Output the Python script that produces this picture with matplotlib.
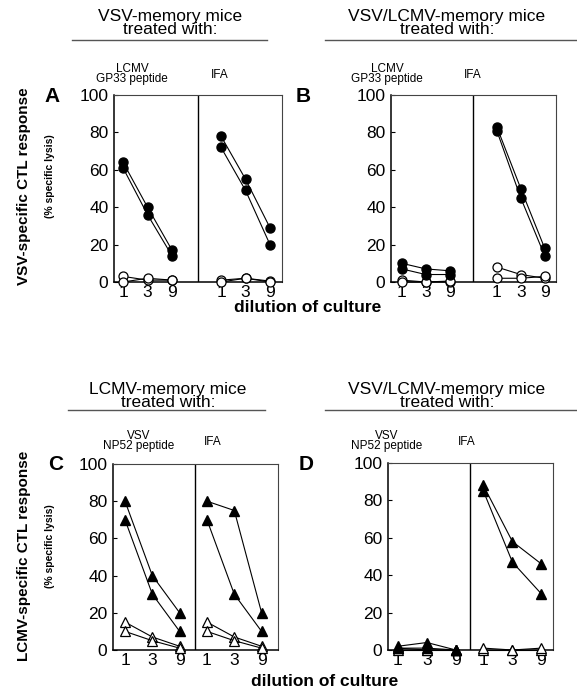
import matplotlib
matplotlib.use("Agg")
import matplotlib.pyplot as plt
from matplotlib.lines import Line2D

plt.rcParams['font.family'] = ['Liberation Sans', 'DejaVu Sans']

W, H = 577, 692

dilutions = ['1', '3', '9']

# panel A: VSV-memory mice, VSV-specific lysis (filled = VSV targets, open = control)
a_pep_filled = [[64, 40, 17], [61, 36, 14]]
a_pep_open = [[3, 1, 1], [0, 2, 1]]
a_ifa_filled = [[78, 55, 29], [72, 49, 20]]
a_ifa_open = [[1, 2, 0.5], [0, 2, 0]]

# panel B: VSV/LCMV-memory mice, VSV-specific lysis
b_pep_filled = [[10, 7, 6], [7, 4, 4]]
b_pep_open = [[1, 0, 0], [0, 0, 0.5]]
b_ifa_filled = [[83, 50, 18], [81, 45, 14]]
b_ifa_open = [[8, 4, 2], [2, 2, 3]]

# panel C: LCMV-memory mice, LCMV-specific lysis
c_pep_filled = [[80, 40, 20], [70, 30, 10]]
c_pep_open = [[15, 7, 2], [10, 5, 1]]
c_ifa_filled = [[80, 75, 20], [70, 30, 10]]
c_ifa_open = [[15, 7, 2], [10, 5, 1]]

# panel D: VSV/LCMV-memory mice, LCMV-specific lysis
d_pep_filled = [[2, 4, 0], [1, 1, 0]]
d_pep_open = [[0, 0, 0], [1, 0, 0]]
d_ifa_filled = [[88, 58, 46], [85, 47, 30]]
d_ifa_open = [[0, 0, 0], [1, 0, 1]]

yticks = [0, 20, 40, 60, 80, 100]


def fx(x):
    return x / W


def fy(y):
    return 1 - y / H


fig = plt.figure(figsize=(W / 100, H / 100), dpi=100)

# layout: (left, top, right, bottom) in pixels, right-block offset, xlim, divider
panels = [
    dict(box=(114, 95, 282, 282), off=4.0, xlim=(-0.37, 6.49), div=3.06,
         letter=('A', 52, 96), marker='o',
         data=(a_pep_filled, a_pep_open, a_ifa_filled, a_ifa_open)),
    dict(box=(391, 95, 556, 282), off=3.96, xlim=(-0.45, 6.43), div=2.98,
         letter=('B', 303, 96), marker='o',
         data=(b_pep_filled, b_pep_open, b_ifa_filled, b_ifa_open)),
    dict(box=(113, 464, 278, 650), off=3.0, xlim=(-0.44, 5.6), div=2.56,
         letter=('C', 56, 464), marker='^',
         data=(c_pep_filled, c_pep_open, c_ifa_filled, c_ifa_open)),
    dict(box=(388, 463, 553, 650), off=2.95, xlim=(-0.34, 5.35), div=2.48,
         letter=('D', 306, 464), marker='^',
         data=(d_pep_filled, d_pep_open, d_ifa_filled, d_ifa_open)),
]

for p in panels:
    l, t, r, b = p['box']
    ax = fig.add_axes([fx(l), fy(b), (r - l) / W, (b - t) / H])
    xl = [0, 1, 2]
    xr = [p['off'] + i for i in range(3)]
    pf, po, i_f, io = p['data']
    ms = 6.5 if p['marker'] == 'o' else 7
    for xs, filled, opened in [(xl, pf, po), (xr, i_f, io)]:
        for s in opened:
            ax.plot(xs, s, color='black', lw=0.8, marker=p['marker'], ms=ms,
                    mfc='white', mec='black', mew=0.9, zorder=3, clip_on=False)
        for s in filled:
            ax.plot(xs, s, color='black', lw=0.8, marker=p['marker'], ms=ms,
                    mfc='black', mec='black', zorder=4, clip_on=False)
    ax.axvline(p['div'], color='black', lw=1)
    ax.set_xlim(*p['xlim'])
    ax.set_ylim(0, 100)
    ax.set_yticks(yticks)
    ax.set_xticks(xl + xr)
    ax.set_xticklabels(dilutions * 2)
    ax.tick_params(axis='y', direction='in', length=3, width=0.8, labelsize=12.5, pad=4)
    ax.tick_params(axis='x', length=0, labelsize=12.5, pad=2)
    for side in ['left', 'bottom']:
        ax.spines[side].set_linewidth(1.1)
    for side in ['top', 'right']:
        ax.spines[side].set_linewidth(0.8)
        ax.spines[side].set_color('#444444')
    let, lx, ly = p['letter']
    fig.text(fx(lx), fy(ly), let, fontsize=15, fontweight='bold',
             ha='center', va='center')

# group titles with underlines
titles = [
    ("VSV-memory mice\ntreated with:", 170, 23, 72, 267, 40),
    ("VSV/LCMV-memory mice\ntreated with:", 447, 23, 325, 577, 40),
    ("LCMV-memory mice\ntreated with:", 168, 396, 68, 265, 410),
    ("VSV/LCMV-memory mice\ntreated with:", 447, 396, 325, 577, 410),
]
for txt, cx, cy, x0, x1, ly in titles:
    fig.text(fx(cx), fy(cy), txt, fontsize=12.5, ha='center', va='center', linespacing=0.85)
    fig.add_artist(Line2D([fx(x0), fx(x1)], [fy(ly), fy(ly)], color='#555555', lw=1))

# treatment labels above each half-panel
sub = [
    ("LCMV\nGP33 peptide", 132, 74), ("IFA", 220, 75),
    ("LCMV\nGP33 peptide", 387, 74), ("IFA", 473, 75),
    ("VSV\nNP52 peptide", 139, 441), ("IFA", 213, 442),
    ("VSV\nNP52 peptide", 387, 441), ("IFA", 467, 442),
]
for txt, cx, cy in sub:
    fig.text(fx(cx), fy(cy), txt, fontsize=8.5, ha='center', va='center', linespacing=0.85)

# axis titles
fig.text(fx(24), fy(186), "VSV-specific CTL response", rotation=90, fontsize=11,
         fontweight='bold', ha='center', va='center')
fig.text(fx(50), fy(176), "(% specific lysis)", rotation=90, fontsize=7.5,
         fontweight='bold', ha='center', va='center')
fig.text(fx(24), fy(556), "LCMV-specific CTL response", rotation=90, fontsize=11,
         fontweight='bold', ha='center', va='center')
fig.text(fx(50), fy(546), "(% specific lysis)", rotation=90, fontsize=7.5,
         fontweight='bold', ha='center', va='center')
fig.text(fx(308), fy(307), "dilution of culture", fontsize=12.5, fontweight='bold',
         ha='center', va='center')
fig.text(fx(325), fy(682), "dilution of culture", fontsize=12.5, fontweight='bold',
         ha='center', va='center')

fig.savefig("out.png", dpi=100)
